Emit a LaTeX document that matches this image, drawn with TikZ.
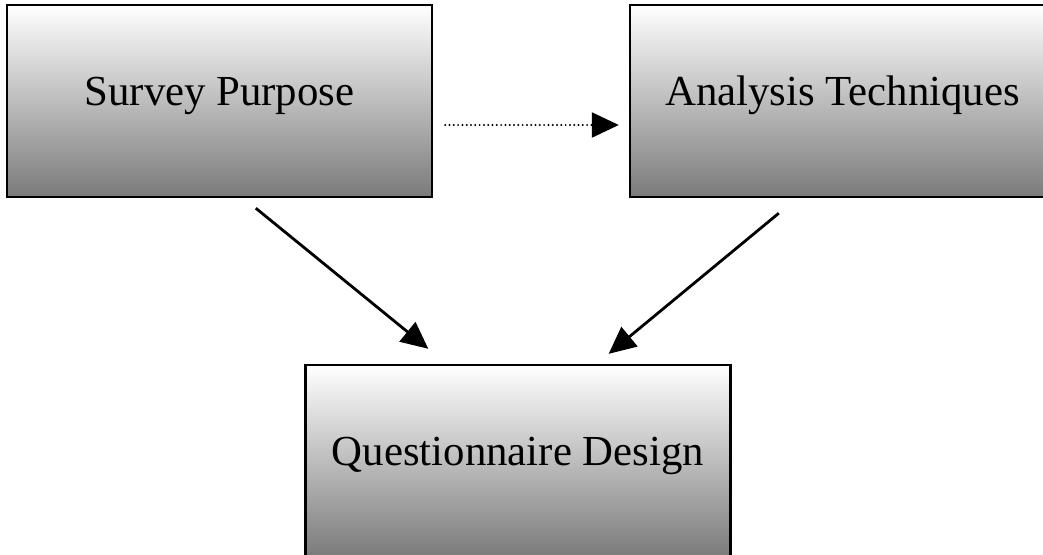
\documentclass[tikz,border=0pt]{standalone}
\usepackage{fontspec}
\setmainfont{Liberation Serif}
\usetikzlibrary{arrows.meta}

\begin{document}
\begin{tikzpicture}[x=0.5pt, y=0.5pt,
        box/.style={draw=black, line width=1.2pt, top color=white, bottom color=black!52,
            minimum width=212.5pt, minimum height=96pt, inner sep=0pt,
            text height=14pt, text depth=10pt,
            font=\fontsize{21.4}{25}\selectfont},
        link/.style={line width=1.4pt, -{Triangle[length=13.5pt,width=12.5pt]}}]
        % page frame, the boxes on the right and at the bottom are cut by it
        \useasboundingbox (0,0) rectangle (1043,554);
        \clip (0,0) rectangle (1043,554);
        % the three boxes
        \node[box] (purpose)  at (219.5,453) {Survey Purpose};
        \node[box] (analysis) at (842.5,453) {Analysis Techniques};
        \node[box] (design)   at (518,93)    {Questionnaire Design};
        % connectors
        \draw[link, line width=1.1pt, line cap=round, dash pattern=on 0pt off 2.15pt]
            ([shift={(12,-24)}]purpose.east) -- ([shift={(-10,-24)}]analysis.west);
        \draw[link] ([shift={(250,-10)}]purpose.south west) -- ([shift={(124,15)}]design.north west);
        \draw[link] ([shift={(150,-15)}]analysis.south west) -- ([shift={(-123,10)}]design.north east);
    \end{tikzpicture}
\end{document}
